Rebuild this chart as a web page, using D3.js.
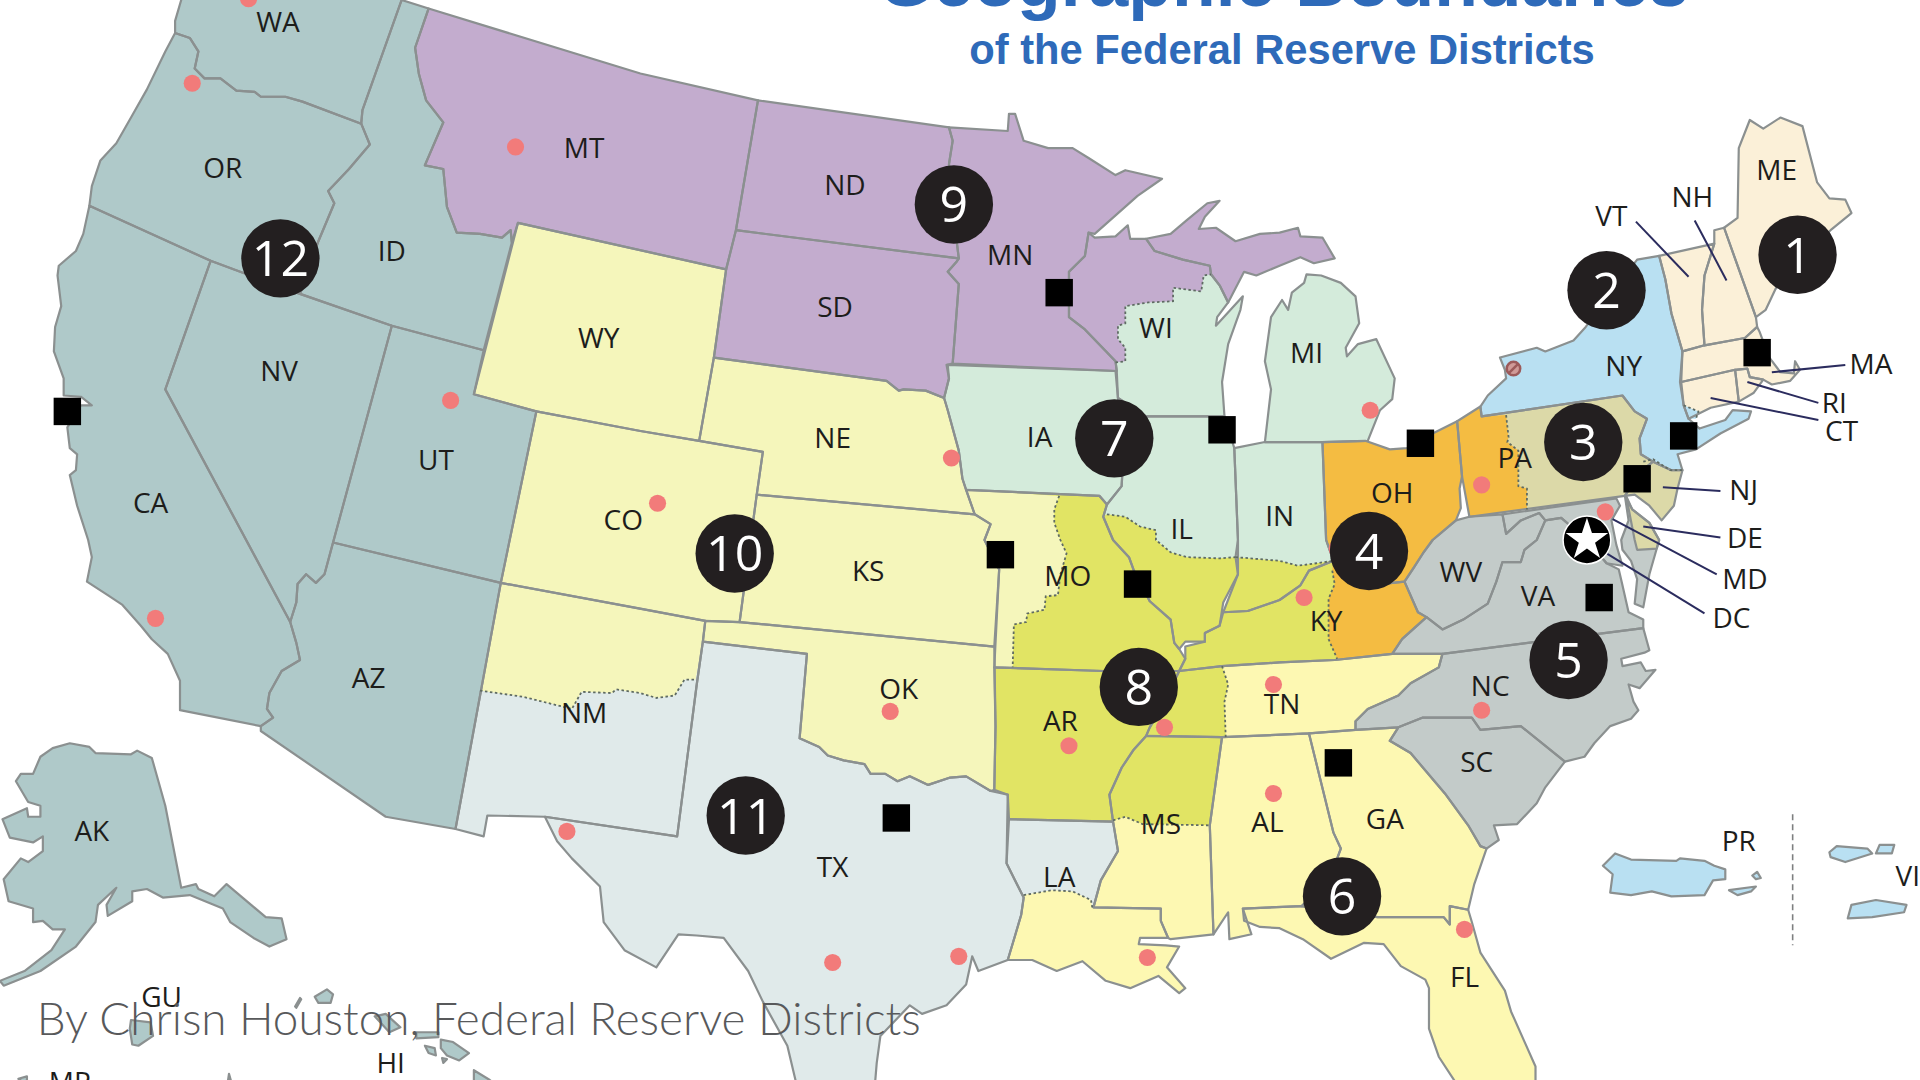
<!DOCTYPE html>
<html>
<head>
<meta charset="utf-8">
<script src="https://cdn.jsdelivr.net/npm/d3@7"></script>
<style>
html,body{margin:0;padding:0;background:#fff;overflow:hidden;}
text{font-family:"Open Sans",sans-serif;}
</style>
</head>
<body>
<div id="map"></div>
<script>
const districtColors=["#fbf0d8","#b9e0f2","#dcd9a8","#f4bc42","#c3cbc9","#fdf8b2","#d4ebdb","#e1e464","#c3acce","#f5f6bb","#e0eaea","#afc9c9"];

// state outlines
const WA=[[148,-12],[148,0],[143,17],[143,27],[155,31],[162,42],[159,56],[167,64],[180,64],[193,74],[208,75],[213,79],[233,79],[247,83],[295,101],[296,90],[328,0],[332,-12]];
const OR=[[143,27],[135,42],[120,73],[107,96],[95,117],[82,131],[75,152],[73,168],[172,213],[245,240],[260,197],[273,166],[268,156],[285,138],[302,118],[295,101],[247,83],[233,79],[213,79],[208,75],[193,74],[180,64],[167,64],[159,56],[162,42],[155,31]];
const ID=[[328,0],[350,7],[339,39],[342,60],[348,82],[362,100],[353,121],[347,135],[362,138],[365,169],[373,190],[392,191],[410,194],[417,188],[418,198],[395,286],[320,266],[245,240],[260,197],[273,166],[268,156],[285,138],[302,118],[295,101],[296,90]];
const MT=[[350,7],[523,60],[619,82],[601,188],[593,220],[423,182],[418,198],[417,188],[410,194],[392,191],[373,190],[365,169],[362,138],[347,135],[353,121],[362,100],[348,82],[342,60],[339,39]];
const ND=[[619,82],[775,104],[778,115],[775,134],[778,170],[783,211],[601,188]];
const SD=[[601,188],[783,211],[781,214],[774,222],[783,232],[778,297],[773,298],[775,309],[771,325],[756,319],[738,318],[734,319],[724,311],[583,292],[593,220]];
const MN=[[775,104],[823,107],[824,93],[829,93],[836,115],[856,121],[876,121],[889,129],[911,143],[919,139],[949,146],[929,160],[894,191],[889,190],[886,209],[873,222],[873,259],[886,269],[911,295],[912,303],[778,297],[783,232],[774,222],[781,214],[783,211],[778,170],[775,134],[778,115]];
const WI=[[889,190],[894,194],[911,193],[921,184],[923,195],[936,195],[943,205],[966,212],[988,217],[989,224],[996,233],[1003,247],[994,259],[993,266],[1015,242],[1013,253],[1003,281],[998,312],[1000,340],[936,340],[913,325],[912,303],[911,295],[886,269],[873,259],[873,222],[886,209]];
const UP=[[936,195],[956,191],[969,180],[986,166],[996,164],[984,177],[979,187],[993,186],[1009,197],[1029,191],[1045,190],[1060,186],[1062,193],[1080,194],[1090,211],[1073,215],[1062,210],[1045,217],[1026,225],[1016,222],[1003,247],[996,233],[989,224],[988,217],[966,212],[943,205]];
const MI=[[1067,224],[1079,225],[1095,231],[1107,242],[1110,264],[1099,284],[1100,291],[1109,281],[1124,277],[1139,309],[1137,326],[1127,335],[1117,360],[1080,361],[1033,361],[1038,318],[1033,295],[1038,259],[1047,245],[1052,253],[1055,239],[1065,231]];
const IA=[[774,298],[911,303],[913,325],[918,360],[916,397],[904,412],[898,405],[789,400],[786,391],[783,368],[774,335],[771,325],[775,309]];
const IL=[[936,340],[1000,340],[1008,366],[1011,441],[1009,455],[1011,469],[999,492],[996,511],[984,517],[984,524],[968,524],[963,530],[959,525],[956,506],[939,491],[926,466],[922,455],[909,441],[901,422],[904,412],[916,397],[918,360],[913,325]];
const IN=[[1008,366],[1033,361],[1080,361],[1083,441],[1089,458],[1069,466],[1062,478],[1045,490],[1019,499],[999,500],[1011,469],[1011,441]];
const OH=[[1080,361],[1115,360],[1135,367],[1149,366],[1170,354],[1190,344],[1194,389],[1192,399],[1193,415],[1189,425],[1170,441],[1162,452],[1155,463],[1147,475],[1118,478],[1089,458],[1083,441]];
const KY=[[968,538],[968,528],[984,524],[984,517],[996,511],[999,500],[1019,499],[1045,490],[1062,478],[1069,466],[1089,458],[1118,478],[1147,475],[1158,500],[1165,504],[1145,522],[1137,534],[1090,539],[1045,541],[998,544],[963,548]];
const TN=[[963,548],[998,544],[1045,541],[1090,539],[1137,534],[1178,534],[1175,545],[1152,558],[1142,568],[1117,579],[1107,589],[1107,596],[1069,599],[998,602],[936,601],[939,594],[950,575]];
const MO=[[789,400],[898,405],[904,412],[901,422],[909,441],[922,455],[926,466],[939,491],[956,506],[959,525],[963,530],[968,538],[963,548],[901,548],[812,545],[816,465],[804,441],[809,428],[796,420]];
const AR=[[812,545],[901,548],[963,548],[950,575],[939,594],[936,601],[926,612],[916,627],[906,649],[909,671],[824,669],[823,649],[812,645],[813,593]];
const LA=[[824,669],[909,671],[913,695],[899,719],[893,741],[948,742],[948,752],[954,766],[931,766],[930,771],[952,772],[963,773],[953,790],[968,807],[963,811],[946,797],[923,807],[903,801],[884,785],[863,793],[843,784],[823,784],[829,764],[834,747],[836,733],[829,719],[822,705]];
const MS=[[936,601],[998,602],[988,674],[991,763],[956,767],[954,766],[948,752],[948,742],[893,741],[899,719],[913,695],[909,671],[906,649],[916,627],[926,612]];
const AL=[[998,602],[1069,599],[1089,680],[1095,693],[1085,720],[1063,740],[1015,742],[1022,763],[1004,767],[1003,745],[991,763],[988,674]];
const GA=[[1069,599],[1107,596],[1142,594],[1135,605],[1152,615],[1180,648],[1199,674],[1209,691],[1214,693],[1204,722],[1199,743],[1184,740],[1184,755],[1179,749],[1125,749],[1063,740],[1085,720],[1095,693],[1089,680]];
const FL=[[1015,742],[1063,740],[1125,749],[1179,749],[1184,755],[1184,740],[1199,743],[1202,753],[1209,778],[1229,809],[1234,826],[1254,871],[1254,892],[1194,892],[1175,863],[1167,840],[1167,807],[1164,800],[1144,789],[1130,771],[1114,770],[1087,783],[1064,767],[1045,758],[1029,757],[1016,752]];
const SC=[[1142,594],[1162,586],[1202,586],[1209,596],[1242,593],[1278,622],[1262,643],[1255,656],[1239,673],[1220,674],[1224,686],[1214,693],[1209,691],[1199,674],[1180,648],[1152,615],[1135,605]];
const NC=[[1178,534],[1342,513],[1347,531],[1343,533],[1324,538],[1325,544],[1340,541],[1344,548],[1352,547],[1339,562],[1330,559],[1334,573],[1338,580],[1332,587],[1315,593],[1302,607],[1294,618],[1278,622],[1242,593],[1209,596],[1202,586],[1162,586],[1142,594],[1107,596],[1107,589],[1117,579],[1142,568],[1152,558],[1175,545]];
const VA=[[1255,441],[1262,425],[1275,423],[1296,441],[1312,460],[1322,465],[1325,478],[1330,500],[1342,506],[1342,513],[1178,534],[1137,534],[1145,522],[1165,504],[1178,514],[1195,506],[1215,493],[1222,475],[1227,459],[1242,459],[1245,449]];
const WV=[[1189,425],[1200,422],[1227,420],[1230,436],[1242,425],[1257,419],[1262,425],[1255,441],[1245,449],[1242,459],[1227,459],[1222,475],[1215,493],[1195,506],[1178,514],[1165,504],[1158,500],[1147,475],[1155,463],[1162,452],[1170,441]];
const MD=[[1227,420],[1320,407],[1323,413],[1316,425],[1320,445],[1325,462],[1312,460],[1296,441],[1275,423],[1262,425],[1257,419],[1242,425],[1230,436]];
const DV=[[1327,405],[1333,416],[1347,427],[1355,441],[1347,469],[1342,496],[1335,493],[1337,473],[1332,458],[1325,449],[1324,441],[1330,425]];
const DE=[[1328,405],[1333,416],[1347,427],[1355,441],[1353,448],[1337,449],[1335,441]];
const PA=[[1190,344],[1209,332],[1210,340],[1325,323],[1335,336],[1345,342],[1339,358],[1340,371],[1350,377],[1340,385],[1327,405],[1200,422],[1194,389]];
const NJ=[[1350,377],[1365,384],[1374,384],[1370,399],[1367,413],[1357,425],[1347,413],[1335,404],[1327,405],[1340,385]];
const NY=[[1337,212],[1355,209],[1360,228],[1365,256],[1374,287],[1372,312],[1375,331],[1379,342],[1388,350],[1409,343],[1415,335],[1430,336],[1428,342],[1405,354],[1385,367],[1370,371],[1374,384],[1365,384],[1350,377],[1340,371],[1339,358],[1345,342],[1335,336],[1325,323],[1210,340],[1209,332],[1215,323],[1230,309],[1229,302],[1225,292],[1255,284],[1262,287],[1285,278],[1295,267]];
const VT=[[1355,209],[1400,199],[1392,225],[1390,253],[1392,282],[1374,287],[1365,256],[1360,228]];
const NH=[[1400,188],[1408,186],[1434,259],[1435,267],[1425,276],[1392,282],[1390,253],[1392,225],[1400,199]];
const ME=[[1408,186],[1419,178],[1420,121],[1429,98],[1440,105],[1454,96],[1472,103],[1484,149],[1494,162],[1507,163],[1512,174],[1495,188],[1470,210],[1450,236],[1442,253],[1434,259]];
const MA=[[1374,287],[1392,282],[1425,276],[1435,267],[1437,271],[1445,292],[1454,304],[1465,305],[1466,295],[1470,302],[1462,311],[1447,314],[1440,310],[1429,308],[1427,301],[1417,302],[1373,312]];
const CT=[[1373,312],[1417,302],[1420,328],[1397,333],[1379,342],[1375,331]];
const RI=[[1417,302],[1427,301],[1429,308],[1440,310],[1432,321],[1420,328]];
const UT=[[320,266],[395,286],[387,322],[438,336],[409,476],[272,443]];
const WY=[[423,182],[593,220],[583,292],[571,360],[523,352],[438,336],[387,322]];
const NV=[[172,213],[245,240],[320,266],[272,443],[265,469],[258,476],[250,469],[243,477],[242,492],[237,508],[135,318]];
const CA=[[73,168],[68,191],[62,205],[48,217],[47,225],[50,250],[45,267],[44,287],[52,309],[52,323],[66,324],[75,331],[66,331],[55,349],[57,366],[63,371],[62,384],[57,388],[63,413],[72,441],[75,455],[71,475],[88,486],[100,494],[115,511],[124,522],[137,534],[147,556],[147,580],[213,593],[223,586],[218,579],[220,566],[230,548],[245,539],[242,525],[237,508],[135,318],[172,213]];
const AZ=[[272,443],[409,476],[372,677],[315,667],[213,597],[213,593],[223,586],[218,579],[220,566],[230,548],[245,539],[242,525],[237,508],[242,492],[243,477],[250,469],[258,476],[265,469]];
const CO=[[438,336],[523,352],[571,360],[623,369],[618,404],[604,508],[576,507],[523,497],[409,476]];
const NE=[[583,292],[724,311],[734,319],[738,318],[756,319],[771,325],[774,335],[783,368],[786,391],[789,400],[796,420],[618,404],[623,369],[571,360]];
const KS=[[618,404],[796,420],[809,428],[804,441],[816,465],[812,528],[604,508]];
const OK=[[576,507],[604,508],[812,528],[813,593],[812,645],[809,646],[789,634],[776,635],[758,641],[743,634],[733,638],[723,632],[711,632],[706,624],[689,621],[676,617],[669,610],[653,603],[659,534],[574,524]];
const NM=[[409,476],[576,507],[574,524],[569,559],[553,683],[445,667],[398,666],[395,683],[372,677]];
const TX=[[574,524],[659,534],[653,603],[669,610],[676,617],[689,621],[706,624],[711,632],[723,632],[733,638],[743,634],[758,641],[776,635],[789,634],[809,646],[823,649],[822,705],[829,719],[836,733],[834,747],[829,764],[823,784],[799,793],[794,781],[789,804],[773,821],[753,828],[743,821],[719,846],[716,868],[714,892],[652,892],[643,854],[623,818],[611,793],[591,766],[569,764],[554,763],[536,790],[510,776],[493,753],[490,724],[467,701],[455,687],[445,667],[553,683],[569,559]];
const AK=[[57,607],[73,610],[78,615],[107,616],[112,613],[124,619],[135,658],[148,725],[160,722],[162,726],[175,732],[185,722],[217,749],[230,750],[234,767],[220,773],[207,766],[188,753],[182,742],[155,731],[133,733],[120,726],[108,728],[108,736],[88,748],[87,739],[95,725],[80,739],[78,753],[62,773],[33,793],[3,805],[0,801],[20,793],[42,776],[53,759],[43,759],[35,752],[27,753],[27,742],[7,736],[3,718],[17,701],[23,704],[35,695],[35,683],[27,688],[8,684],[2,669],[22,660],[23,667],[33,667],[33,658],[23,655],[13,638],[17,632],[27,632],[33,618],[43,611]];

// islands
const niihau=[[245,815],[246,816],[242,823],[241,822]];
const kauai=[[257,814],[267,808],[272,812],[270,819],[260,819]];
const oahu=[[306,830],[315,828],[327,839],[318,843]];
const molokai=[[340,843],[358,843],[358,847],[340,848]];
const lanai=[[347,854],[355,856],[356,862],[350,860]];
const maui=[[360,849],[370,851],[383,860],[375,866],[365,862],[360,856]];
const kahoolawe=[[361,864],[365,865],[362,868]];
const bigIsland=[[387,874],[400,882],[412,892],[387,892]];
const guam=[[107,833],[123,835],[125,846],[113,854],[108,853],[106,840]];
const saipan=[[15,881],[22,879],[22,886]];
const tinian=[[186,884],[187,877],[189,884]];
const puertoRico=[[1309,707],[1319,697],[1332,702],[1369,703],[1372,701],[1392,703],[1400,707],[1409,710],[1409,718],[1399,719],[1392,731],[1365,732],[1349,728],[1332,731],[1315,729],[1317,714]];
const vieques=[[1412,727],[1434,724],[1430,728],[1419,731]];
const culebra=[[1431,715],[1435,712],[1438,717],[1434,718]];
const stThomas=[[1494,696],[1500,691],[1525,693],[1529,697],[1507,704],[1495,700]];
const stJohn=[[1535,690],[1547,690],[1545,697],[1532,697]];
const stCroix=[[1512,739],[1532,735],[1557,739],[1555,745],[1529,749],[1509,750]];

// district of each outline, same order
const outlines=[WA,OR,ID,NV,CA,UT,AZ,AK,niihau,kauai,oahu,molokai,lanai,maui,kahoolawe,bigIsland,guam,saipan,tinian,MT,ND,SD,MN,WI,UP,WY,CO,NE,KS,OK,NM,TX,LA,MS,AL,GA,FL,TN,AR,MO,KY,IL,IN,IA,MI,OH,WV,VA,MD,DV,NC,SC,PA,NJ,DE,NY,VT,NH,ME,MA,CT,RI,puertoRico,vieques,culebra,stThomas,stJohn,stCroix];
const outlineDistricts=[12,12,12,12,12,12,12,12,12,12,12,12,12,12,12,12,12,12,12,9,9,9,9,7,9,10,10,10,10,10,11,11,11,6,6,6,6,6,8,8,8,7,7,7,7,4,5,5,5,5,5,5,3,3,3,2,1,1,1,1,1,1,2,2,2,2,2,2];

// dotted district borders inside a state
const dashWI=[[911,296],[919,295],[919,284],[913,277],[913,266],[919,264],[919,250],[938,247],[958,246],[958,235],[981,238],[983,225],[989,224]];
const dashMO=[[865,405],[861,416],[861,427],[866,441],[871,452],[866,469],[864,486],[854,487],[853,498],[839,501],[838,508],[828,510],[827,545]];
const dashIL=[[904,420],[919,422],[931,430],[944,433],[944,441],[956,451],[969,455],[996,456],[1009,455]];
const dashIN=[[1009,455],[1045,458],[1060,462],[1075,460],[1089,458]];
const dashKY=[[1088,466],[1090,477],[1085,489],[1085,522],[1092,538]];
const dashTN=[[998,544],[1003,559],[1000,573],[1001,602]];
const dashMS=[[909,670],[919,667],[933,673],[988,674]];
const dashLA=[[836,731],[859,727],[876,728],[891,735],[892,741]];
const dashNM=[[392,564],[427,569],[455,576],[467,579],[475,565],[500,566],[503,563],[523,566],[536,570],[551,568],[559,555],[568,555]];
const dashPA=[[1230,339],[1232,357],[1231,361],[1240,368],[1240,397],[1247,399],[1247,416]];
const dashNJ=[[1342,377],[1350,375],[1364,384],[1374,384]];
const dashCT=[[1375,331],[1387,336],[1385,342]];
const dashes=[dashWI,dashMO,dashIL,dashIN,dashKY,dashTN,dashMS,dashLA,dashNM,dashPA,dashNJ,dashCT];

// the part of a split state that has another colour
const partWI=[[889,190],[886,209],[873,222],[873,259],[886,269],[911,296],[919,295],[919,284],[913,277],[913,266],[919,264],[919,250],[938,247],[958,246],[958,235],[981,238],[983,225],[989,224],[988,217],[966,212],[943,205],[936,195],[923,195],[921,184],[911,193],[894,194]];
const partMO=[[789,400],[865,405],[861,416],[861,427],[866,441],[871,452],[866,469],[864,486],[854,487],[853,498],[839,501],[838,508],[828,510],[827,545],[812,545],[816,465],[804,441],[809,428],[796,420]];
const partIL=[[904,420],[919,422],[931,430],[944,433],[944,441],[956,451],[969,455],[996,456],[1009,455],[1011,469],[999,492],[996,511],[984,517],[984,524],[968,524],[963,530],[959,525],[956,506],[939,491],[926,466],[922,455],[909,441],[901,422]];
const partIN=[[1009,455],[1045,458],[1060,462],[1075,460],[1089,458],[1069,466],[1062,478],[1045,490],[1019,499],[999,500],[1011,469]];
const partKY=[[1089,458],[1118,478],[1147,475],[1158,500],[1165,504],[1145,522],[1137,534],[1092,538],[1085,522],[1085,489],[1090,477],[1088,466]];
const partTN=[[963,548],[998,544],[1003,559],[1000,573],[1001,602],[936,601],[939,594],[950,575]];
const partMS=[[936,601],[998,602],[988,674],[933,673],[919,667],[909,670],[906,649],[916,627],[926,612]];
const partLA=[[836,731],[859,727],[876,728],[891,735],[892,741],[948,742],[948,752],[954,766],[931,766],[930,771],[963,773],[953,790],[968,807],[963,811],[946,797],[923,807],[903,801],[884,785],[863,793],[843,784],[823,784],[829,764],[834,747]];
const partNM=[[409,476],[576,507],[574,524],[568,555],[559,555],[551,568],[536,570],[523,566],[503,563],[500,566],[475,565],[467,579],[455,576],[427,569],[392,564]];
const partPA=[[1190,344],[1209,332],[1210,340],[1230,339],[1232,357],[1231,361],[1240,368],[1240,397],[1247,399],[1247,416],[1200,422],[1194,389]];
const partCT=[[1375,331],[1387,336],[1385,342],[1379,342]];
const parts=[partWI,partMO,partIL,partIN,partKY,partTN,partMS,partLA,partNM,partPA,partCT];
const partDistricts=[9,10,8,8,4,8,8,6,10,4,2];

// labels
const stateNames=["WA","OR","ID","MT","WY","NV","UT","CA","AZ","CO","NM","ND","SD","NE","KS","OK","TX","MN","IA","MO","AR","LA","WI","IL","MS","MI","IN","OH","KY","TN","AL","GA","FL","SC","NC","VA","WV","PA","NY","ME","NH","VT","MA","RI","CT","NJ","DE","MD","DC","PR","AK","GU","HI","MP","VI"];
const stateLabelX=[227,182,320,477,489,228,356,123,301,509,477,690,682,680,709,734,680,825,849,872,866,865,944,965,948,1067,1045,1137,1083,1047,1035,1131,1196,1206,1217,1256,1193,1237,1326,1451,1382,1316,1528,1498,1504,1424,1425,1425,1414,1420,75,132,319,57,1558];
const stateLabelY=[18,137,205,121,276,303,376,411,554,425,582,151,251,358,466,563,708,208,357,470,589,716,268,432,673,288,421,403,507,575,671,669,798,622,560,487,467,374,299,139,161,176,297,329,352,400,439,473,505,687,679,814,868,884,715];

// numbered circles
const districtNumbers=[1,2,3,4,5,6,7,8,9,10,11,12];
const circleX=[1468,1312,1293,1118,1281,1096,910,930,779,600,609,229];
const circleY=[208,237,361,450,539,732,358,561,167,452,666,211];

// Reserve Bank cities (squares) and branches (dots)
const bankCities=["Boston","New York","Philadelphia","Cleveland","Richmond","Atlanta","Chicago","St. Louis","Minneapolis","Kansas City","Dallas","San Francisco"];
const bankX=[1435,1375,1337,1160,1306,1093,998,929,865,817,732,55];
const bankY=[288,356,391,362,488,623,351,477,239,453,668,336];
const branchX=[203,157,368,127,421,777,537,727,873,951,1065,1092,1210,1119,1311,1210,1040,1040,1196,937,783,680,463];
const branchY=[-1,68,327,505,120,374,411,581,609,594,488,448,396,335,418,580,648,559,759,782,781,786,679];

// leader lines from small states to their label
const leaderNames=["VT","NH","MA","RI","CT","NJ","DE","MD","DC"];
const leaderX1=[1336,1384,1447,1427,1397,1358,1342,1317,1299];
const leaderY1=[181,180,304,312,325,398,430,424,444];
const leaderX2=[1379,1410,1507,1485,1485,1405,1405,1402,1392];
const leaderY2=[226,229,298,329,343,401,439,469,501];

const titleText="Geographic Boundaries";
const subtitleText="of the Federal Reserve Districts";
const creditText="By Chrisn Houston, Federal Reserve Districts";

var width=1920;
    height=1080;

var svg=d3.select("#map")
          .append("svg")
          .attr("width",width)
          .attr("height",height)
          .style("display","block");

var x=d3.scaleLinear().domain([0,1568]).range([0,width]);
var y=d3.scaleLinear().domain([0,882]).range([0,height]);
var k=x(1)-x(0);

var shape=d3.line().x(function(d){return x(d[0]);}).y(function(d){return y(d[1]);});
var ring=function(d){return shape(d)+"Z";};

// fills first, then the parts, then the borders on top so the parts don't eat them
svg.append("g").selectAll("path")
   .data(outlines)
   .enter()
   .append("path")
   .attr("d",ring)
   .attr("fill",function(d,i){return districtColors[outlineDistricts[i]-1];});

svg.append("g").selectAll("path")
   .data(parts)
   .enter()
   .append("path")
   .attr("d",ring)
   .attr("fill",function(d,i){return districtColors[partDistricts[i]-1];});

svg.append("g").selectAll("path")
   .data(outlines)
   .enter()
   .append("path")
   .attr("d",ring)
   .attr("fill","none")
   .attr("stroke","#8b9090")
   .attr("stroke-width",2.2)
   .attr("stroke-linejoin","round");

svg.append("g").selectAll("path")
   .data(dashes)
   .enter()
   .append("path")
   .attr("d",shape)
   .attr("fill","none")
   .attr("stroke","#5f6b63")
   .attr("stroke-width",1.8)
   .attr("stroke-dasharray","2.5 2.5");

// PR / VI separator
svg.append("line")
   .attr("x1",x(1464)).attr("x2",x(1464))
   .attr("y1",y(665)).attr("y2",y(772))
   .attr("stroke","#7d7f80")
   .attr("stroke-width",1.6)
   .attr("stroke-dasharray","6 4");

// leaders
svg.append("g").selectAll("line")
   .data(leaderNames)
   .enter()
   .append("line")
   .attr("x1",function(d,i){return x(leaderX1[i]);})
   .attr("y1",function(d,i){return y(leaderY1[i]);})
   .attr("x2",function(d,i){return x(leaderX2[i]);})
   .attr("y2",function(d,i){return y(leaderY2[i]);})
   .attr("stroke","#2b2c5e")
   .attr("stroke-width",2);

// branch dots
svg.append("g").selectAll("circle")
   .data(branchX)
   .enter()
   .append("circle")
   .attr("cx",function(d){return x(d);})
   .attr("cy",function(d,i){return y(branchY[i]);})
   .attr("r",7*k)
   .attr("fill","#f27b7a");

// Buffalo, branch closed
svg.append("circle")
   .attr("cx",x(1236)).attr("cy",y(301)).attr("r",5.5*k)
   .attr("fill","#d09a97").attr("stroke","#9c5a5a").attr("stroke-width",2.5);
svg.append("line")
   .attr("x1",x(1232)).attr("y1",y(305)).attr("x2",x(1240)).attr("y2",y(297))
   .attr("stroke","#9c5a5a").attr("stroke-width",2.5);

// state abbreviations
svg.append("g").selectAll("text")
   .data(stateNames)
   .enter()
   .append("text")
   .attr("x",function(d,i){return x(stateLabelX[i]);})
   .attr("y",function(d,i){return y(stateLabelY[i]);})
   .attr("dy",-1)
   .attr("text-anchor","middle")
   .attr("dominant-baseline","central")
   .attr("font-size",28)
   .attr("fill","#1d1d1b")
   .text(function(d){return d;});

// bank squares
svg.append("g").selectAll("rect")
   .data(bankCities)
   .enter()
   .append("rect")
   .attr("x",function(d,i){return x(bankX[i]-11.2);})
   .attr("y",function(d,i){return y(bankY[i]-11.2);})
   .attr("width",22.4*k)
   .attr("height",22.4*k)
   .attr("fill","#000");

// district numbers
var badge=svg.append("g").selectAll("g")
   .data(districtNumbers)
   .enter()
   .append("g")
   .attr("transform",function(d,i){return "translate("+x(circleX[i])+","+y(circleY[i])+")";});
badge.append("circle").attr("r",32*k).attr("fill","#231f20");
badge.append("text")
     .attr("text-anchor","middle")
     .attr("dominant-baseline","central")
     .attr("dy",-1)
     .attr("font-size",50)
     .attr("fill","#fff")
     .text(function(d){return d;});

// Board of Governors star
svg.append("circle")
   .attr("cx",x(1296)).attr("cy",y(441)).attr("r",19.5*k)
   .attr("fill","#000").attr("stroke","#fff").attr("stroke-width",1.5);
svg.append("path")
   .attr("d",d3.symbol().type(d3.symbolStar).size(560))
   .attr("transform","translate("+x(1296)+","+y(441)+")")
   .attr("fill","#fff");

// title, cut off by the top of the picture
svg.append("text")
   .attr("x",x(1048)).attr("y",y(5))
   .attr("text-anchor","middle")
   .style("font-family","'Liberation Sans',sans-serif")
   .attr("font-weight","bold")
   .attr("font-size",71.5)
   .attr("fill","#2e6ab9")
   .text(titleText);
svg.append("text")
   .attr("x",x(1047)).attr("y",y(52))
   .attr("text-anchor","middle")
   .style("font-family","'Liberation Sans',sans-serif")
   .attr("font-weight","bold")
   .attr("font-size",41.7)
   .attr("fill","#2e6ab9")
   .text(subtitleText);

svg.append("text")
   .attr("x",x(30)).attr("y",y(845))
   .style("font-family","Lato,sans-serif")
   .attr("font-weight",300)
   .attr("font-size",46)
   .attr("fill","#58595b")
   .attr("textLength",884)
   .attr("lengthAdjust","spacingAndGlyphs")
   .text(creditText);
</script>
</body>
</html>
